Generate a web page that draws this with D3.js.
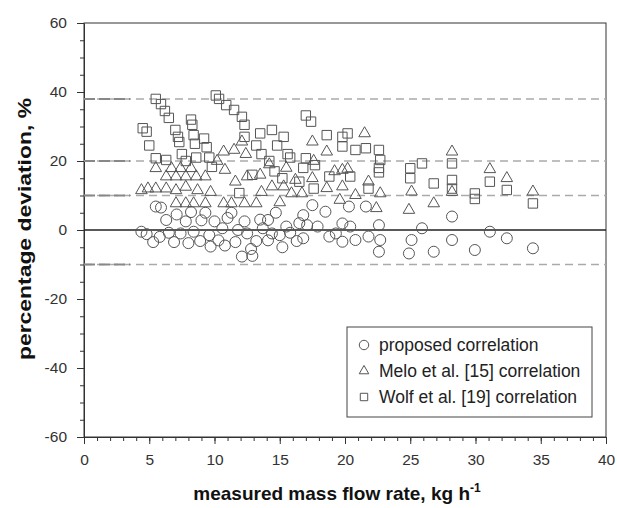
<!DOCTYPE html>
<html lang="en">
<head>
    <meta charset="UTF-8">
    <title>percentage deviation</title>
    <script src="https://cdn.jsdelivr.net/npm/d3@7"></script>
    <style>
        body{ margin: 0; background: #fff; }
        svg text{ font-family: "Liberation Sans", Arial, sans-serif; }
        .tick text{ fill: #333; font-size: 15.5px; }
        .tick line, .domain{ stroke: #333; }
        .mark{ fill: none; stroke: #555; stroke-width: 1; }
    </style>
</head>
<body>
    <svg id="main-svg" width="617" height="508"></svg>

    <script>
        // [flow rate kg/h, deviation %]
        const proposed = [
            [4.4,-0.5],[4.8,-1.2],[5.3,-3.5],[5.5,6.8],[5.9,6.5],[5.8,-2],[6.3,2.9],[6.5,-0.8],[6.9,-3.5],
            [7.1,4.5],[7.4,-1],[7.8,2.5],[8.0,-3.8],[8.2,5.2],[8.4,-0.5],[8.9,-3.2],[9.0,2.8],[9.3,5],
            [9.6,-1.5],[9.7,-4.8],[10.0,2.5],[10.3,-3],[10.6,0.5],[10.8,-4.5],[11.0,3.5],[11.3,5],[11.6,-3.5],
            [11.8,0],[12.1,-7.7],[12.3,2.5],[12.5,-1],[12.8,-5.5],[12.9,-7.5],[13.2,-3.2],[13.5,3],[13.7,0.5],
            [14.1,-3],[14.1,2.9],[14.4,-1],[14.7,5],[15.0,-1.5],[15.2,-5],[15.5,1],[15.8,-0.8],[16.3,-3.2],
            [16.5,2],[16.8,4.3],[16.8,-2.4],[17.1,1.4],[17.5,7.2],[17.9,1],[18.5,5.3],[18.8,-1.9],[19.3,-1],
            [19.8,1.9],[19.8,-3.4],[20.3,6.8],[20.4,1],[20.8,-2.9],[21.6,6.8],[21.8,-1.9],[22.6,1.4],[22.7,-2.9],
            [22.6,-6.3],[24.9,-6.8],[25.1,-2.9],[25.9,0.5],[26.8,-6.3],[28.2,3.9],[28.2,-2.9],[29.95,-5.8],
            [31.1,-0.5],[32.4,-2.4],[34.4,-5.3]
        ];
        const melo = [
            [4.4,11.5],[4.9,12],[5.5,12],[5.5,17.9],[6.3,12],[6.3,15.5],[6.7,17.9],[7.05,11.5],[7.05,15.5],
            [7.05,7.7],[7.4,17.9],[7.8,12.5],[7.8,15.5],[7.8,7.7],[8.2,17.9],[8.4,7.7],[8.6,15.5],[8.7,11.5],
            [9.3,7.7],[9.3,15.5],[9.7,11],[10.2,20],[10.7,22.7],[10.7,7.7],[10.8,17.4],[11.3,7.7],[11.5,23.2],
            [11.6,14],[12.1,25.6],[12.3,7.7],[12.4,22],[12.5,15.5],[13.2,7.7],[13.5,16],[13.6,11],[14.4,12.6],
            [14.2,19],[15.0,8],[15.3,12.6],[15.5,18],[15.9,10.6],[16.2,14.5],[16.7,10.6],[17.5,25.6],[17.5,15],
            [17.6,20],[18.6,22.7],[18.6,12.1],[19.2,17],[19.6,8.7],[19.8,17.4],[19.8,12.6],[20.2,17.7],
            [20.8,10.1],[21.5,28],[21.8,14],[22.4,6.3],[22.7,10.6],[24.9,5.8],[25.1,11.1],[26.8,7.7],
            [28.2,22.7],[28.2,11],[31.1,17.6],[32.4,15],[34.4,11.1]
        ];
        const wolf = [
            [4.5,29.5],[4.8,28.5],[5.0,24.5],[5.5,38],[5.9,36.5],[5.5,20.8],[6.2,34.5],[6.3,20.3],[6.5,32.5],
            [7.0,29],[7.2,27],[7.3,25.5],[7.5,22],[7.8,20],[8.2,32],[8.3,30.5],[8.4,27.5],[8.5,25],[8.6,21],
            [9.2,26.5],[9.4,24],[9.6,21],[9.8,18.3],[10.1,39],[10.35,38],[10.9,36.2],[11.5,34.8],[11.9,10.7],
            [12.1,32.8],[12.3,30.5],[12.3,27],[12.9,16],[13.2,24.5],[13.5,28],[13.6,22],[14.2,20],[14.4,29],
            [14.6,17],[14.8,24.5],[15.2,15],[15.3,27],[15.6,22],[15.8,21],[16.5,14],[17,33.2],[17.4,31.4],
            [17,20.8],[16.8,18],[17.6,12],[17.7,18.8],[18.6,27.5],[18.8,15.5],[19.8,27],[20.2,28],[19.8,24.2],
            [20.4,15.5],[20.8,23.2],[21.6,23.7],[21.8,12],[22.6,23.2],[22.7,20.3],[22.6,18],[22.6,16.7],
            [25,17.9],[25,15],[25.9,19.3],[26.8,13.5],[28.2,19.3],[28.2,14.5],[28.2,12],[29.95,10.6],[29.95,9],
            [31.1,14],[32.4,11.6],[34.4,7.7]
        ];
        const refLines = [38, 20, 10, -10];
        const xTicks = [0, 5, 10, 15, 20, 25, 30, 35, 40];
        const yTicks = [-60, -40, -20, 0, 20, 40, 60];
        const legendLabels = ['proposed correlation', 'Melo et al. [15] correlation', 'Wolf et al. [19] correlation'];

        const margin = {top: 23, right: 11, bottom: 71, left: 84};
        const width = 617 - margin.left - margin.right,
              height = 508 - margin.top - margin.bottom;

        let svg = d3.select('#main-svg');
        let g = svg.append('g').attr('transform', `translate(${margin.left},${margin.top})`);

        let x = d3.scaleLinear().domain([0, 40]).range([0, width]);
        let y = d3.scaleLinear().domain([-60, 60]).range([height, 0]);

        // plain hyphen for negatives, like the original
        const fmt = d => String(d);

        // minor ticks
        g.append('g')
            .attr('transform', `translate(0,${height})`)
            .call(d3.axisBottom(x).tickValues(d3.range(0, 41, 1)).tickSize(4).tickFormat(''))
            .call(a => a.select('.domain').remove());
        g.append('g')
            .call(d3.axisLeft(y).tickValues(d3.range(-60, 61, 5)).tickSize(4).tickFormat(''))
            .call(a => a.select('.domain').remove());

        g.append('g')
            .attr('transform', `translate(0,${height})`)
            .call(d3.axisBottom(x).tickValues(xTicks).tickFormat(fmt).tickSize(7).tickPadding(10).tickSizeOuter(0));
        g.append('g')
            .call(d3.axisLeft(y).tickValues(yTicks).tickFormat(fmt).tickSize(7).tickPadding(10).tickSizeOuter(0));

        // frame
        g.append('rect')
            .attr('width', width).attr('height', height)
            .style('fill', 'none').style('stroke', '#333');

        g.selectAll('.ref-line')
            .data(refLines)
            .enter()
            .append('line')
            .classed('ref-line', true)
            .attr('x1', 0).attr('x2', width)
            .attr('y1', d => y(d)).attr('y2', d => y(d))
            .style('stroke', '#aaa')
            .style('stroke-width', 1.5)
            .style('stroke-dasharray', '8,5');

        // darker start of the dashed lines near the axis
        g.selectAll('.ref-dark')
            .data(refLines)
            .enter()
            .append('line')
            .classed('ref-dark', true)
            .attr('x1', 0).attr('x2', 46)
            .attr('y1', d => y(d)).attr('y2', d => y(d))
            .style('stroke', '#888')
            .style('stroke-width', 2)
            .style('stroke-dasharray', '11,4');

        g.append('line')
            .attr('x1', 0).attr('x2', width)
            .attr('y1', y(0)).attr('y2', y(0))
            .style('stroke', '#222')
            .style('stroke-width', 1.3);

        let circleSym = d3.symbol().type(d3.symbolCircle).size(95);
        let triSym = d3.symbol().type(d3.symbolTriangle).size(58);
        let sqSym = d3.symbol().type(d3.symbolSquare).size(88);

        let drawSeries = (data, sym, cls) => {
            g.selectAll('.' + cls)
                .data(data)
                .enter()
                .append('path')
                .attr('class', 'mark ' + cls)
                .attr('d', sym)
                .attr('transform', d => `translate(${x(d[0])},${y(d[1])})`);
        };
        drawSeries(proposed, circleSym, 'proposed');
        drawSeries(melo, triSym, 'melo');
        drawSeries(wolf, sqSym, 'wolf');

        // legend
        let lg = g.append('g').attr('transform', `translate(${347 - margin.left},${327 - margin.top})`);
        lg.append('rect')
            .attr('width', 245).attr('height', 90)
            .style('fill', '#fff').style('stroke', '#444');
        let syms = [d3.symbol().type(d3.symbolCircle).size(70), d3.symbol().type(d3.symbolTriangle).size(40), d3.symbol().type(d3.symbolSquare).size(55)];
        legendLabels.forEach((t, i) => {
            let ly = 18 + i * 26;
            lg.append('path').attr('class', 'mark').attr('d', syms[i]).attr('transform', `translate(17,${ly})`);
            lg.append('text').attr('x', 32).attr('y', ly).attr('dy', '0.35em')
                .style('font-size', '17.5px').style('fill', '#222').text(t);
        });

        // axis titles
        let xt = svg.append('text')
            .attr('x', margin.left + width / 2 - 8).attr('y', 500)
            .attr('text-anchor', 'middle')
            .style('font-size', '19px').style('font-weight', 'bold').style('fill', '#111');
        xt.append('tspan').text('measured mass flow rate, kg h');
        xt.append('tspan').attr('dy', -8).style('font-size', '12px').text('-1');

        // original y title is drawn stretched along its length
        svg.append('text')
            .attr('transform', `translate(31,229) rotate(-90)`)
            .attr('text-anchor', 'middle')
            .attr('textLength', 262)
            .attr('lengthAdjust', 'spacingAndGlyphs')
            .style('font-size', '18.5px').style('font-weight', 'bold').style('fill', '#111')
            .text('percentage deviation, %');
    </script>
</body>
</html>
